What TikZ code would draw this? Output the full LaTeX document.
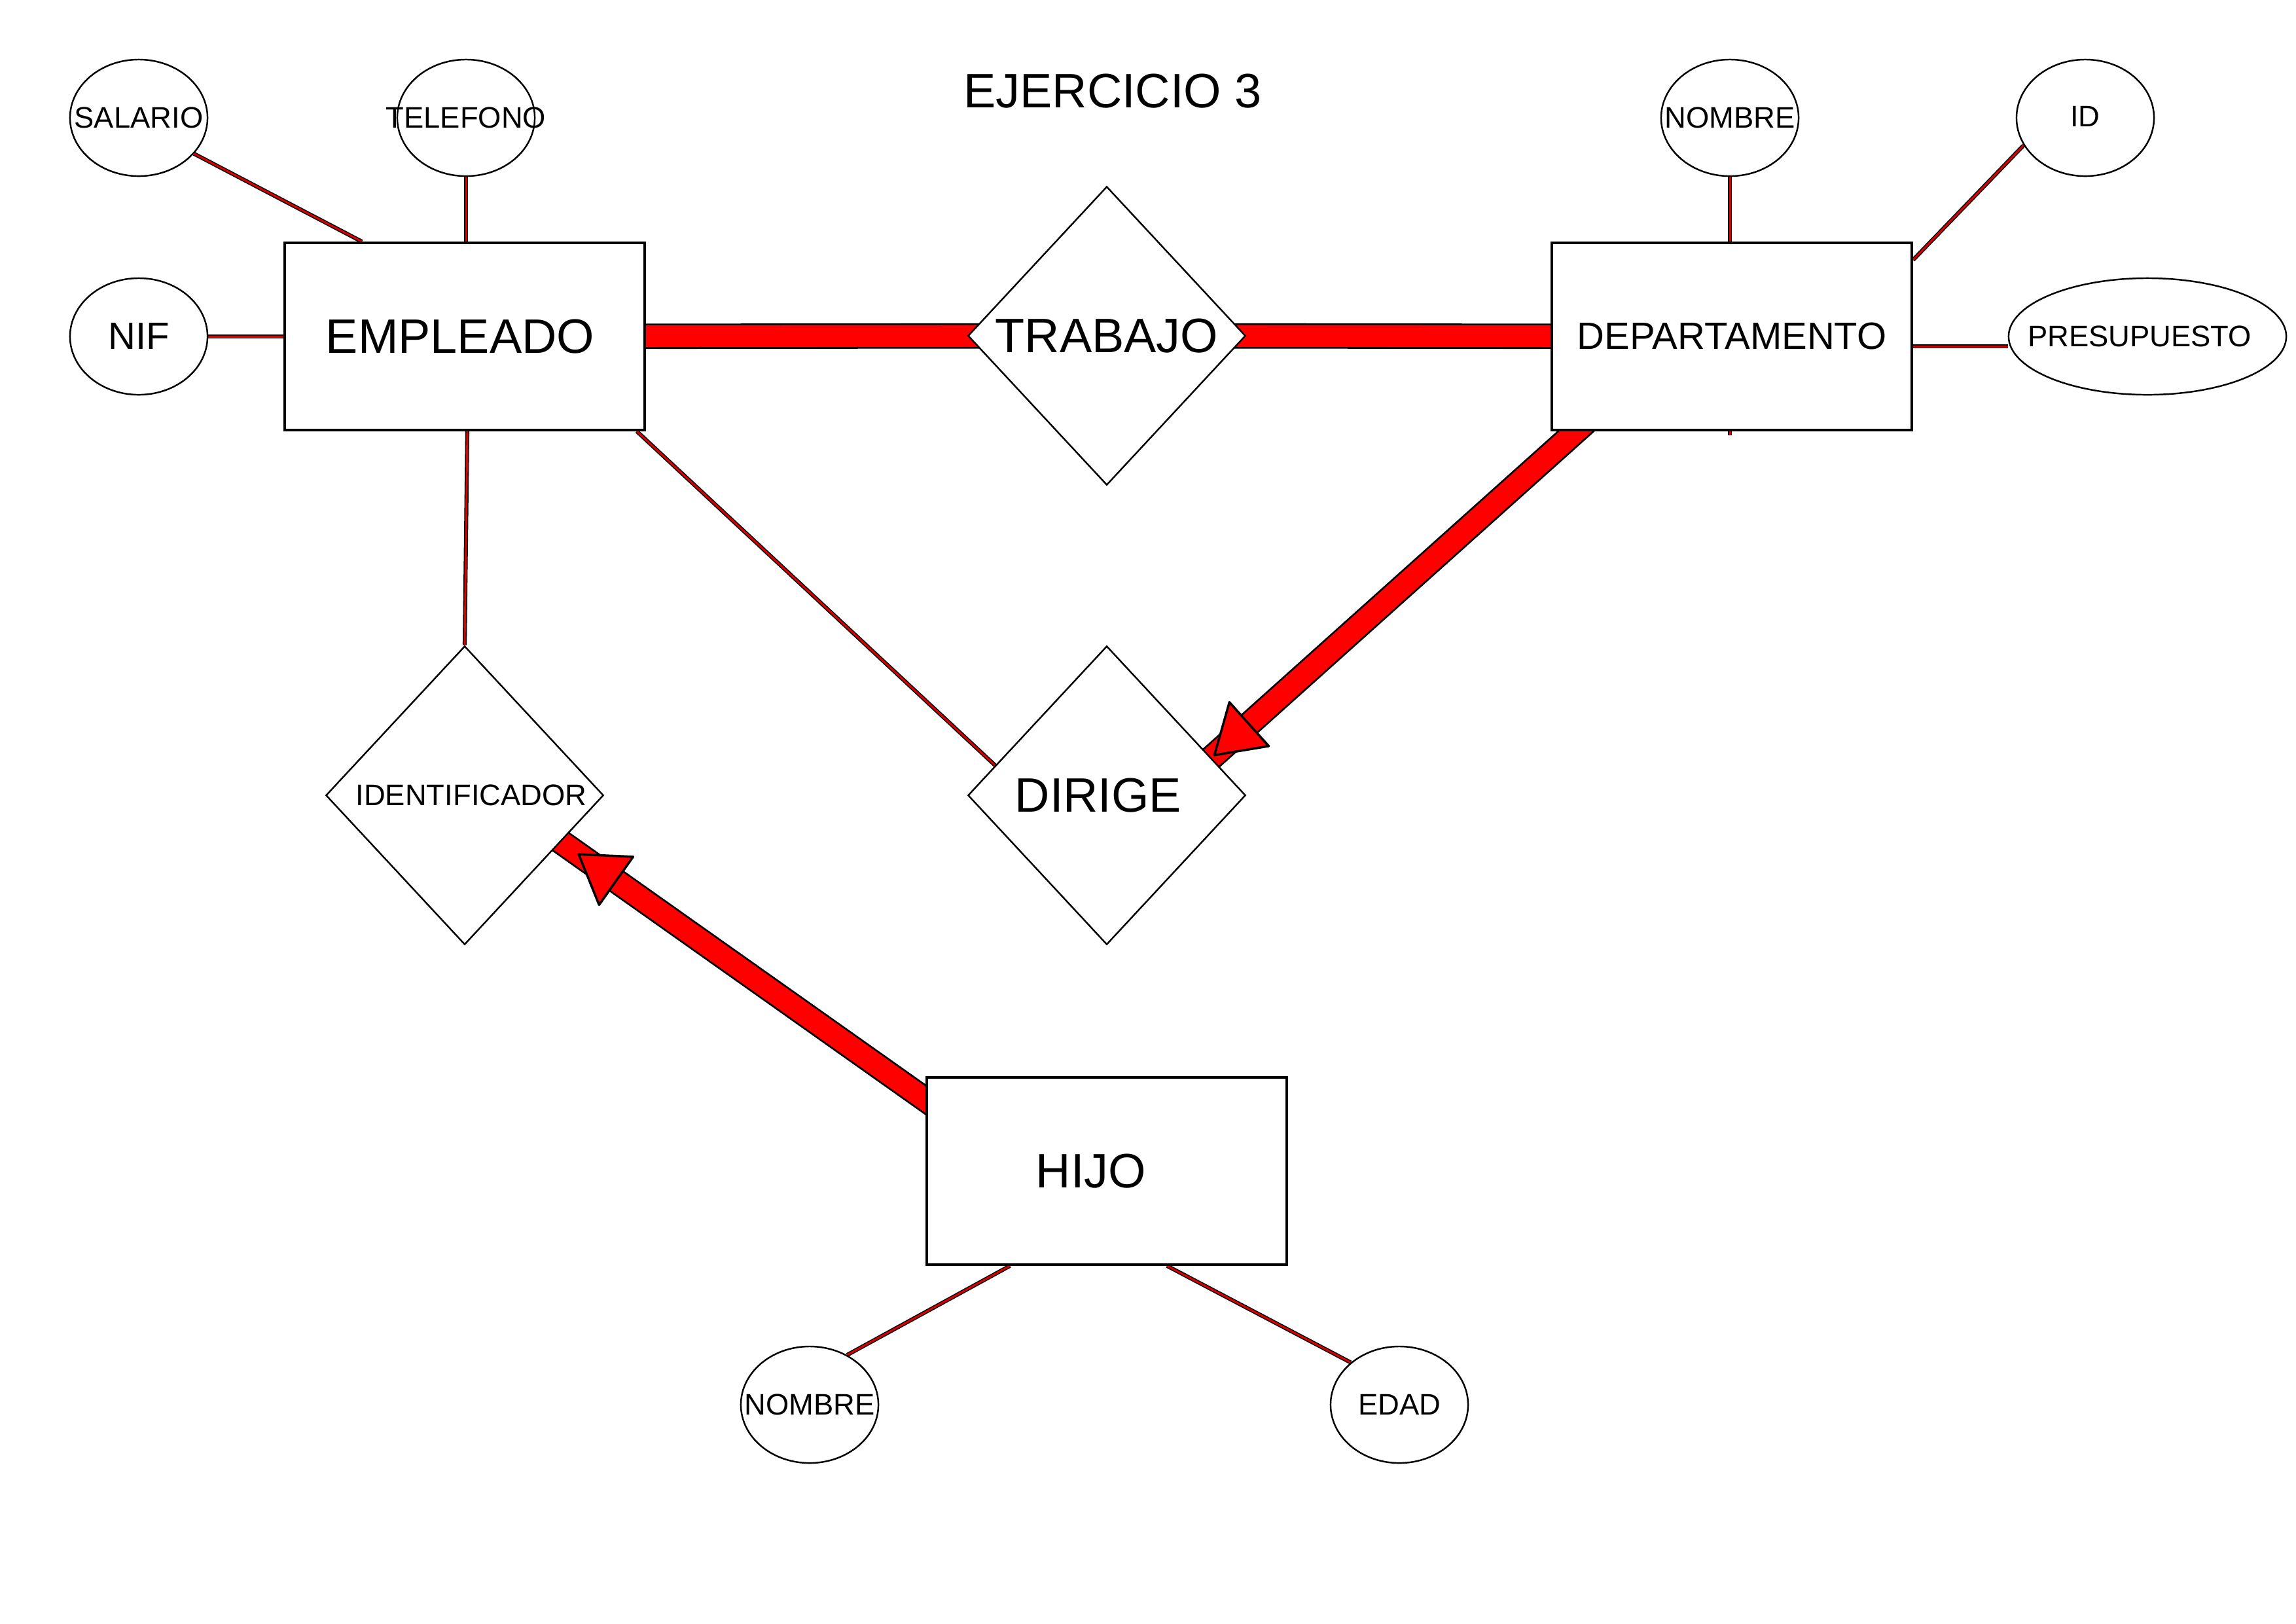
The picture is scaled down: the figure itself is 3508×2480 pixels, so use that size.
\documentclass[tikz,border=0pt]{standalone}
\usepackage{fontspec}
\setmainfont{Liberation Sans}
\usetikzlibrary{shapes.geometric,calc}
\pgfdeclarelayer{bg}
\pgfdeclarelayer{lines}
\pgfsetlayers{bg,lines,main}
\newcommand{\mktxt}[1]{\makebox[0pt]{#1}}
\newcommand{\mkoff}[3]{\makebox[0pt]{\hspace*{#1}\raisebox{#2}{#3}\hspace*{-#1}}}
\begin{document}
\begin{tikzpicture}[x=0.01cm,y=-0.01cm,
  bigf/.style={font=\fontsize{21}{25}\selectfont},
  midf/.style={font=\fontsize{16.5}{20}\selectfont},
  smallf/.style={font=\fontsize{12.9}{15}\selectfont},
  attr/.style={ellipse, draw=black, line width=0.7pt, fill=white, inner sep=0pt,
    minimum width=2.1cm, minimum height=1.78cm, smallf},
  ent/.style={rectangle, draw=black, line width=1pt, fill=white, inner sep=0pt,
    minimum width=5.5cm, minimum height=2.86cm},
  rel/.style={diamond, draw=black, line width=0.7pt, fill=white, inner sep=0pt,
    aspect=1, minimum width=4.24cm, minimum height=4.56cm},
  attrline/.style={draw=black, line width=0.45pt, double=red!85!black, double distance=0.85pt},
  band/.style={draw=black, line width=0.8pt, double=red, double distance=9.4pt,
    shorten <=-8pt, shorten >=-8pt},
  head/.style={fill=red, draw=black, line width=1pt, line join=round}
]
\begin{pgfonlayer}{bg}
  \fill[white] (0,0) rectangle (3508,2480);
\end{pgfonlayer}
\useasboundingbox (0,0) rectangle (3508,2480);

% title
\node[bigf] (ttl) at (1700,139) {EJERCICIO 3};

% nodes
\node[attr] (sal) at (212,180) {\mktxt{SALARIO}};
\node[attr] (tel) at (712,180) {\mktxt{TELEFONO}};
\node[attr, midf] (nif) at (212,514) {\mktxt{NIF}};
\node[ent, bigf] (emp) at (710,514) {\mkoff{-0.07cm}{0cm}{EMPLEADO}};
\node[rel, bigf] (trab) at (1691,513) {\mktxt{TRABAJO}};
\node[ent, midf] (dept) at (2646,514) {\mktxt{DEPARTAMENTO}};
\node[attr] (nom1) at (2643,180) {\mktxt{NOMBRE}};
\node[attr] (id) at (3186,180) {\mkoff{0cm}{0.05cm}{ID}};
\node[attr, minimum width=4.24cm] (pres) at (3281,514) {\mkoff{-0.12cm}{0cm}{PRESUPUESTO}};
\node[rel, smallf] (ident) at (710,1215) {\mkoff{0.1cm}{-0.09cm}{IDENTIFICADOR}};
\node[rel, bigf] (dir) at (1691,1215) {\mkoff{-0.13cm}{-0.03cm}{DIRIGE}};
\node[ent, bigf] (hijo) at (1691,1789) {\mkoff{-0.24cm}{0cm}{HIJO}};
\node[attr] (nom2) at (1237,2146) {\mktxt{NOMBRE}};
\node[attr] (edad) at (2138,2146) {\mktxt{EDAD}};

% connector end points
\coordinate (dS) at ($(dept.south west)!0.07!(dept.south east)$);
\coordinate (dE) at ($(dir.north)!0.75!(dir.east)$);
\coordinate (hS) at ($(hijo.west)+(0,-109)$);
\coordinate (hE) at ($(ident.east)!0.31!(ident.south)$);

\begin{pgfonlayer}{lines}
  \draw[attrline] (sal.-33) -- ($(emp.north west)+(120,0)$);
  \draw[attrline] (tel) -- (tel |- emp.north);
  \draw[attrline] (nif) -- (emp);
  \draw[attrline] ($(emp.south)+(4,0)$) -- (ident.north);
  \draw[attrline] ($(emp.south east)+(-14,0)$) -- ($(dir.west)!0.2!(dir.north)$);
  \draw[attrline] (nom1) -- ($(nom1 |- dept.south)+(0,6)$);
  \draw[attrline] (id.204) -- ($(dept.north east)+(0,28)$);
  \draw[attrline] ($(pres.west)+(0,15)$) -- ($(dept.east)+(0,15)$);
  \draw[attrline] (nom2.53) -- ($(hijo.south west)+(129,0)$);
  \draw[attrline] (edad.139) -- ($(hijo.south west)+(369,0)$);
  \draw[band] (emp) -- (trab);
  \draw[band] (trab) -- (dept);
  \draw[band] (dS) -- (dE);
  \draw[band] (hS) -- (hE);
\end{pgfonlayer}

% arrow heads
\coordinate (dT) at ($(dE)!0.06cm!(dS)$);
\coordinate (dB) at ($(dE)!0.77cm!(dS)$);
\draw[head] (dT) -- ($(dB)!0.45cm!90:(dT)$) -- ($(dB)!0.45cm!-90:(dT)$) -- cycle;
\coordinate (hT) at ($(hE)!0.33cm!(hS)$);
\coordinate (hB) at ($(hE)!1.03cm!(hS)$);
\draw[head] (hT) -- ($(hB)!0.45cm!90:(hT)$) -- ($(hB)!0.45cm!-90:(hT)$) -- cycle;
\end{tikzpicture}
\end{document}
